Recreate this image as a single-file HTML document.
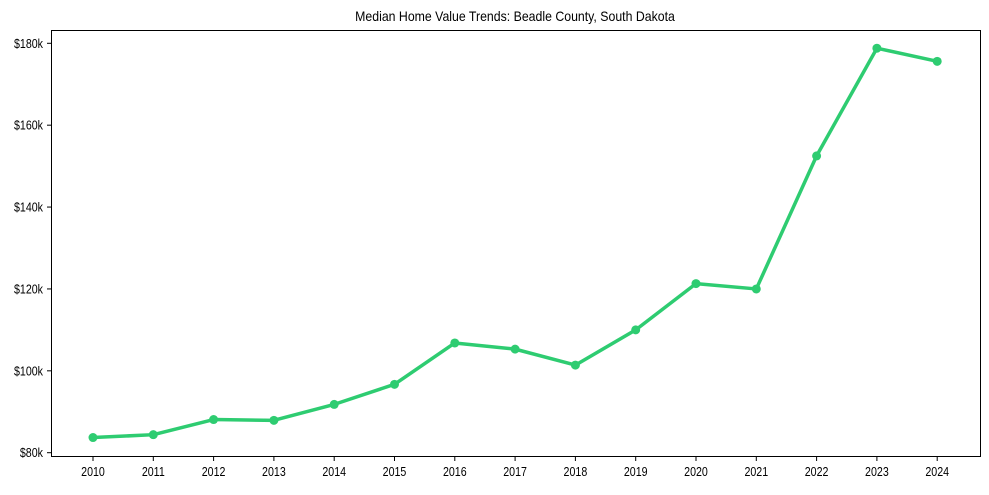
<!DOCTYPE html>
<html><head><meta charset="utf-8"><style>
body{margin:0;background:#fff;}
svg text{font-family:"Liberation Sans",Arial,sans-serif;fill:#000;}
</style></head><body>
<svg id="chart" width="989" height="490">
<text x="515" y="21" font-size="14" text-anchor="middle" transform="translate(515,0) scale(0.88,1) translate(-515,0)">Median Home Value Trends: Beadle County, South Dakota</text>
<rect x="51.5" y="30.5" width="929" height="426" fill="none" stroke="#000" stroke-width="1"/>
<g id="axes"></g>
<g id="series"></g>
</svg>
<script>
const years=[2010,2011,2012,2013,2014,2015,2016,2017,2018,2019,2020,2021,2022,2023,2024];
const values=[83.7,84.4,88.1,87.9,91.8,96.7,106.8,105.3,101.4,110,121.3,120,152.5,178.8,175.6];
const yTicks=[80,100,120,140,160,180];
const yTickLabels=["$80k","$100k","$120k","$140k","$160k","$180k"];
const ns="http://www.w3.org/2000/svg";
const x=i=>93+i*60.3;
const y=v=>452.7-(v-80)*4.094;
const axes=document.getElementById('axes'),ser=document.getElementById('series');
function mk(tag,attrs,parent){const e=document.createElementNS(ns,tag);for(const k in attrs)e.setAttribute(k,attrs[k]);parent.appendChild(e);return e;}
yTicks.forEach((t,i)=>{
 const l=mk('line',{x1:47,x2:51.5,y1:y(t),y2:y(t),stroke:'#000'},axes);
 
 
 const tx=mk('text',{x:43,y:y(t)+4.5,'font-size':13,'text-anchor':'end',transform:`translate(43,0) scale(0.82,1) translate(-43,0)`},axes);
 tx.textContent=yTickLabels[i];
 
 
});
years.forEach((yr,i)=>{
 const l=mk('line',{x1:x(i),x2:x(i),y1:456.5,y2:461,stroke:'#000'},axes);
 
 
 const tx=mk('text',{x:x(i),y:476,'font-size':13,'text-anchor':'middle',transform:`translate(${x(i)},0) scale(0.82,1) translate(${-x(i)},0)`},axes);
 tx.textContent=yr;
 
 
});
const p=mk('polyline',{points:values.map((v,i)=>x(i)+','+y(v)).join(' '),fill:'none',stroke:'#2ecc71','stroke-width':3.5,'stroke-linejoin':'round'},ser);


values.forEach((v,i)=>{
 const c=mk('circle',{cx:x(i),cy:y(v),r:4.5,fill:'#2ecc71'},ser);
 
 
});
</script>
</body></html>
